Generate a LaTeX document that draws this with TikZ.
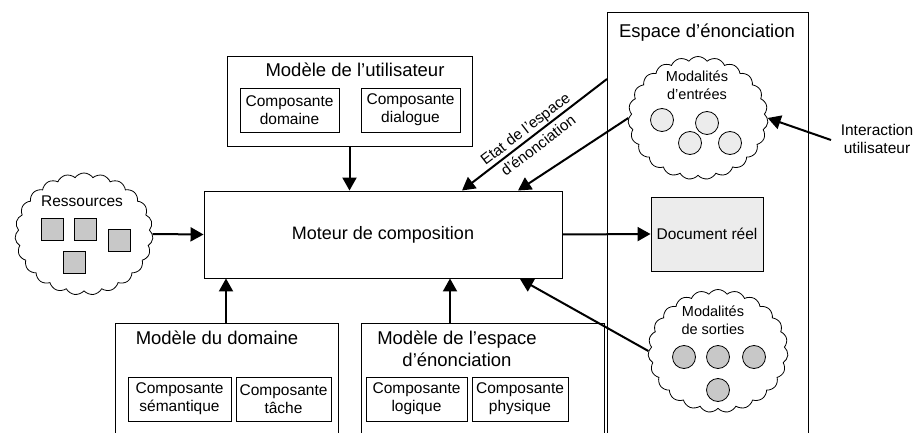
\documentclass[tikz,border=0pt]{standalone}
\usepackage{fontspec}
\setmainfont{Liberation Sans}
\usetikzlibrary{shapes.symbols,arrows.meta}
\definecolor{lightfill}{RGB}{236,236,236}
\definecolor{midfill}{RGB}{200,200,200}
\begin{document}
\begin{tikzpicture}[x=1pt,y=-1pt,
  frame/.style={draw, line width=0.9pt},
  box/.style={draw, line width=0.9pt, inner sep=0pt, align=center},
  inbox/.style={box, minimum height=44pt, font=\fontsize{15.5}{18}\selectfont},
  bigtxt/.style={inner sep=0pt, align=center, font=\fontsize{18.5}{22}\selectfont},
  midtxt/.style={inner sep=0pt, align=center, font=\fontsize{15.5}{18}\selectfont},
  cloudtxt/.style={inner sep=0pt, align=center, font=\fontsize{14.5}{18}\selectfont},
  cloudshape/.style={cloud, draw, line width=0.8pt, cloud puffs=23, cloud puff arc=110,
     cloud ignores aspect, inner sep=0pt},
  sq/.style={draw, line width=0.8pt, fill=midfill, minimum size=22pt, inner sep=0pt},
  dotl/.style={circle, draw, line width=0.8pt, fill=lightfill, minimum size=23pt, inner sep=0pt},
  dotd/.style={circle, draw, line width=0.8pt, fill=midfill, minimum size=23pt, inner sep=0pt},
  arr/.style={line width=2pt, -{Triangle[length=13pt,width=14pt]}}
]
\useasboundingbox (0,0) rectangle (916,433);

% ---------- containers ----------
\draw[frame] (607,433) -- (607,12) -- (808,12) -- (808,433);
\node[bigtxt] (esptitle) at (707,33) {Espace d’énonciation};

\node[box, minimum width=245pt, minimum height=90pt] (user) at (349.5,101) {};
\node[bigtxt] (usertitle) at (355,70) {Modèle de l’utilisateur};
\node[inbox, minimum width=99pt] (cdom) at (289.5,110) {Composante\\domaine};
\node[inbox, minimum width=99pt] (cdia) at (410.5,110) {Composante\\dialogue};

\draw[frame] (115,433) -- (115,323) -- (338,323) -- (338,433);
\node[bigtxt] (domtitle) at (217,338) {Modèle du domaine};
\node[inbox, minimum width=103pt] (csem) at (179.5,399) {Composante\\sémantique};
\node[inbox, minimum width=95pt] (ctac) at (283.5,399) {Composante\\tâche};

\draw[frame] (361,433) -- (361,323) -- (604,323) -- (604,433);
\node[bigtxt] (esptitle2) at (457,349) {Modèle de l’espace\\d’énonciation};
\node[inbox, minimum width=101pt] (clog) at (416.5,399) {Composante\\logique};
\node[inbox, minimum width=96pt] (cphy) at (520,399) {Composante\\physique};

% ---------- main ----------
\node[box, minimum width=358pt, minimum height=87pt, font=\fontsize{18}{22}\selectfont] (main) at (383,234.5) {Moteur de composition};
\node[box, fill=lightfill, minimum width=112pt, minimum height=74pt, font=\fontsize{15.5}{18}\selectfont] (doc) at (707,234) {Document réel};

% ---------- clouds ----------
\node[cloudshape, minimum width=138pt, minimum height=122pt] (res) at (84,234) {};
\node[midtxt] (restxt) at (82,201) {Ressources};
\node[sq] (s1) at (52,229) {};
\node[sq] (s2) at (85.5,229) {};
\node[sq] (s3) at (119.5,240) {};
\node[sq] (s4) at (74.5,262) {};

\node[cloudshape, minimum width=140pt, minimum height=123pt] (inc) at (698,118) {};
\node[cloudtxt] (inctxt) at (697,85) {Modalités\\d’entrées};
\node[dotl] (i1) at (662,120) {};
\node[dotl] (i2) at (707,123) {};
\node[dotl] (i3) at (690,143) {};
\node[dotl] (i4) at (730,143) {};

\node[cloudshape, minimum width=140pt, minimum height=123pt] (outc) at (718,351) {};
\node[cloudtxt] (outtxt) at (713,320) {Modalités\\de sorties};
\node[dotd] (o1) at (684,357) {};
\node[dotd] (o2) at (718,357) {};
\node[dotd] (o3) at (754,357) {};
\node[dotd] (o4) at (718,390) {};

\node[midtxt] (inter) at (877,139) {Interaction\\utilisateur};

% ---------- connectors ----------
\coordinate (etatstart) at (607,79);
\coordinate (etatend) at (462,190.5);
\coordinate (inend) at (518,190.5);
\coordinate (outend) at (520,279);
\coordinate (dombot) at (226,323);
\coordinate (espbot) at (450,323);
\coordinate (interstart) at (831,140);

\draw[arr] (user.south) -- (user.south |- main.north);
\draw[arr] (res.east) -- (main.west);
\draw[arr] (main.east) -- (doc.west);
\draw[arr] (dombot) -- (dombot |- main.south);
\draw[arr] (espbot) -- (espbot |- main.south);
\draw[arr] (etatstart) -- node[sloped, pos=0.52, align=center, inner sep=0pt,
   font=\fontsize{15.2}{21}\selectfont] (etatlbl) {Etat de l’espace\\d’énonciation} (etatend);
\draw[arr] (inc.west) -- (inend);
\draw[arr] (outc.west) -- (outend);
\draw[arr] (interstart) -- (inc.east);
\end{tikzpicture}
\end{document}
